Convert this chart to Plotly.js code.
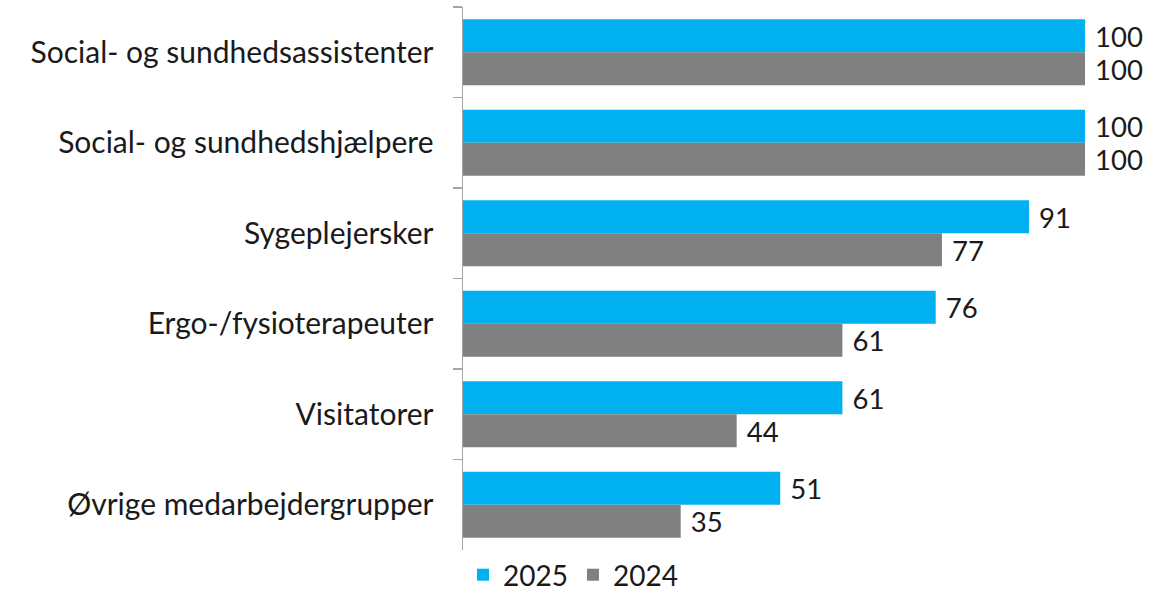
<!DOCTYPE html>
<html><head><meta charset="utf-8">
<script src="https://cdn.plot.ly/plotly-3.0.1.min.js"></script>
<style>html,body{margin:0;padding:0;background:#fff}</style>
</head><body>
<div id="chart" style="width:1173px;height:594px"></div>
<script>
const categories = ["Social- og sundhedsassistenter","Social- og sundhedshjælpere","Sygeplejersker","Ergo-/fysioterapeuter","Visitatorer","Øvrige medarbejdergrupper"];
const values2025 = [100,100,91,76,61,51];
const values2024 = [100,100,77,61,44,35];
const seriesNames = ["2025","2024"];

const font = "Lato, 'Open Sans', sans-serif";
const fs = 30;
const traces = [
  {type:"bar", orientation:"h", name:seriesNames[0], y:categories, x:values2025,
   marker:{color:"#00B0F0"}, text:values2025.map(v=>" "+v), textposition:"outside",
   textfont:{size:fs,color:"#1a1a1a",family:font}, cliponaxis:false, hoverinfo:"none"},
  {type:"bar", orientation:"h", name:seriesNames[1], y:categories, x:values2024,
   marker:{color:"#808080"}, text:values2024.map(v=>" "+v), textposition:"outside",
   textfont:{size:fs,color:"#1a1a1a",family:font}, cliponaxis:false, hoverinfo:"none"}
];
const layout = {
  width:1173, height:594,
  margin:{l:463,r:88,t:7,b:44,autoexpand:false},
  barmode:"group", bargap:0.27, bargroupgap:0,
  paper_bgcolor:"#fff", plot_bgcolor:"#fff",
  font:{family:font, size:fs, color:"#1a1a1a"},
  xaxis:{range:[0,100], showgrid:false, zeroline:false, showticklabels:false, showline:false, fixedrange:true},
  yaxis:{autorange:"reversed", showline:true, linecolor:"#a6a6a6", linewidth:1.5,
         ticks:"outside", tickson:"boundaries", ticklen:9, tickcolor:"#a6a6a6", tickwidth:1.5,
         ticklabelstandoff:22, tickfont:{size:fs,color:"#1a1a1a"}, showgrid:false, automargin:false},
  showlegend:true,
  legend:{orientation:"h", x:0.0, xanchor:"left", y:0.0, yanchor:"top", borderwidth:0,
          font:{size:28,color:"#1a1a1a"}, traceorder:"normal"}
};
Plotly.newPlot("chart", traces, layout, {displayModeBar:false, staticPlot:true});
</script>
</body></html>
